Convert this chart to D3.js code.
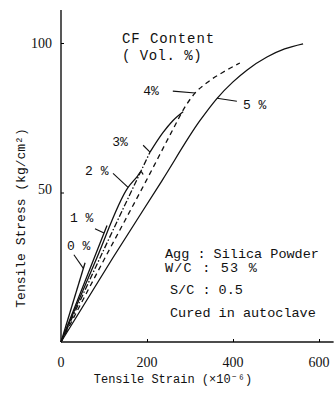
<!DOCTYPE html>
<html>
<head>
<meta charset="utf-8">
<title>Tensile stress-strain, CF content</title>
<script src="https://cdnjs.cloudflare.com/ajax/libs/d3/7.8.5/d3.min.js"></script>
<style>
  body { margin: 0; background: #fff; }
  svg { display: block; background: #fff; }
  text { fill: #111; }
  .mono { font-family: "Liberation Mono", "DejaVu Sans Mono", monospace; }
  .serif { font-family: "Liberation Serif", "DejaVu Serif", serif; }
</style>
</head>
<body>
<svg width="335" height="393"></svg>
<script>
// CF content (vol. %) of each curve
var contents = ["0 %", "1 %", "2 %", "3%", "4%", "5 %"];

// [strain x10^-6, stress kg/cm2]
var cf0 = [[0, 0], [56, 26.5]];
var cf1 = [[0, 0], [55, 20], [107, 39]];
var cf2 = [[0, 0], [80, 27], [156, 51.7], [178, 55.5], [186, 57], [191, 56]];
var cf3 = [[0, 0], [100, 31], [207, 63.5], [237, 70], [260, 74], [284, 77]];
var cf4 = [[0, 0], [100, 27.5], [202, 55], [260, 71], [290, 79], [312, 83.3], [340, 86.8], [380, 90.5], [416, 93.3]];
var cf5 = [[0, 0], [120, 28], [235, 54], [323, 74], [363, 81.5], [400, 87], [433, 91], [479, 95.3], [520, 98], [563, 99.7]];
var curves = [cf0, cf1, cf2, cf3, cf4, cf5];

var xTicks = [0, 200, 400, 600];
var yTicks = [50, 100];

// where each label sits and which strain its leader points to
var labelAt = [[14, 30.8], [21, 40.3], [56, 56], [119, 65.4], [191, 82.6], [423, 77.9]];
var leaderFrom = [[30, 29.2], [79, 37.9], [121, 56.4], [191, 65.8], [260, 83.9], [409, 80.5]];
var leaderStrain = [52, 100, 156, 207, 312, 363];

var conditions = ["Agg : Silica Powder", "W/C : 53 %", "S/C : 0.5", "Cured in autoclave"];

var svg = d3.select("svg");
var x = d3.scaleLinear().domain([0, 600]).range([61, 319]);
var y = d3.scaleLinear().domain([0, 100]).range([342, 43]);

// axes
svg.append("line").attr("x1", x(0)).attr("x2", x(0)).attr("y1", y(111)).attr("y2", y(0))
  .attr("stroke", "#111").attr("stroke-width", 1.4);
svg.append("line").attr("x1", x(0)).attr("x2", x(634)).attr("y1", y(0)).attr("y2", y(0))
  .attr("stroke", "#111").attr("stroke-width", 1.3);

var xAxis = svg.append("g").attr("transform", "translate(0," + y(0) + ")")
  .call(d3.axisTop(x).tickValues(xTicks).tickSize(3).tickFormat(""));
xAxis.select(".domain").remove();
svg.append("g").selectAll("text").data(xTicks).enter().append("text")
  .attr("class", "serif")
  .attr("x", function(d) { return x(d); })
  .attr("y", 367)
  .attr("text-anchor", "middle")
  .attr("font-size", 14)
  .text(function(d) { return d; });

var yAxis = svg.append("g").attr("transform", "translate(" + x(0) + ",0)")
  .call(d3.axisRight(y).tickValues(yTicks).tickSize(3).tickFormat(""));
yAxis.select(".domain").remove();
svg.append("g").selectAll("text").data(yTicks).enter().append("text")
  .attr("class", "serif")
  .attr("x", 52)
  .attr("y", function(d) { return y(d) + (d == 50 ? 1 : 5); })
  .attr("text-anchor", "end")
  .attr("font-size", 14)
  .text(function(d) { return d; });

// axis titles
svg.append("text").attr("class", "mono")
  .attr("transform", "translate(25,218) rotate(-90)")
  .attr("text-anchor", "middle").attr("font-size", 13)
  .text("Tensile Stress (kg/cm²)");
svg.append("text").attr("class", "mono")
  .attr("x", 173).attr("y", 383)
  .attr("text-anchor", "middle").attr("font-size", 12)
  .text("Tensile Strain (×10⁻⁶)");

// curves; the 3 % curve is dash-dot up to its label, solid above it
var line = d3.line()
  .x(function(d) { return x(d[0]); })
  .y(function(d) { return y(d[1]); })
  .curve(d3.curveMonotoneX);

var pieces = [
  { pts: cf0, dash: null },
  { pts: cf1, dash: null },
  { pts: cf2, dash: null },
  { pts: cf3.slice(0, 3), dash: "6,2,1.5,2" },
  { pts: cf3.slice(2), dash: null },
  { pts: cf4, dash: "5,4" },
  { pts: cf5, dash: null }
];

svg.append("g").selectAll("path").data(pieces).enter().append("path")
  .attr("d", function(d) { return line(d.pts); })
  .attr("fill", "none")
  .attr("stroke", "#111")
  .attr("stroke-width", 1.3)
  .attr("stroke-dasharray", function(d) { return d.dash; });

// leaders and labels
function stressAt(pts, s) {
  for (var k = 1; k < pts.length; k++) {
    if (s <= pts[k][0]) {
      var t = (s - pts[k - 1][0]) / (pts[k][0] - pts[k - 1][0]);
      return pts[k - 1][1] + t * (pts[k][1] - pts[k - 1][1]);
    }
  }
  return pts[pts.length - 1][1];
}

svg.append("g").selectAll("line").data(contents).enter().append("line")
  .attr("x1", function(d, i) { return x(leaderFrom[i][0]); })
  .attr("y1", function(d, i) { return y(leaderFrom[i][1]); })
  .attr("x2", function(d, i) { return x(leaderStrain[i]); })
  .attr("y2", function(d, i) { return y(stressAt(curves[i], leaderStrain[i])); })
  .attr("stroke", "#111").attr("stroke-width", 1.1);

svg.append("g").selectAll("text").data(contents).enter().append("text")
  .attr("class", "mono")
  .attr("x", function(d, i) { return x(labelAt[i][0]); })
  .attr("y", function(d, i) { return y(labelAt[i][1]); })
  .attr("font-size", 13)
  .text(function(d) { return d; });

// title and test conditions
svg.append("text").attr("class", "mono").attr("x", 122).attr("y", 43)
  .attr("font-size", 14).attr("letter-spacing", 0.9).text("CF Content");
svg.append("text").attr("class", "mono").attr("x", 122).attr("y", 60)
  .attr("font-size", 14).attr("letter-spacing", 0.5).text("( Vol. %)");

svg.append("g").selectAll("text").data(conditions).enter().append("text")
  .attr("class", "mono")
  .attr("x", function(d, i) { return i < 2 ? 165 : 170; })
  .attr("y", function(d, i) { return [258, 272, 294, 317][i]; })
  .attr("font-size", 13.5)
  .attr("letter-spacing", function(d, i) { return i == 1 ? 1.2 : 0; })
  .text(function(d) { return d; });
</script>
</body>
</html>
